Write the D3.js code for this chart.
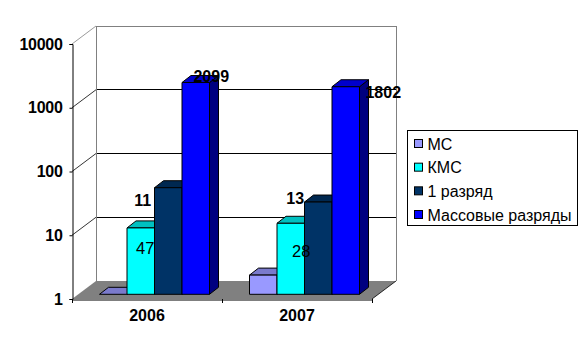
<html>
<head>
<meta charset="utf-8">
<title>Разряды</title>
<script type="text/javascript" src="https://d3js.org/d3.v7.min.js"></script>
<style>
  body { margin: 0; background: #fff; }
  text { font-family: "Liberation Sans", Arial, sans-serif; fill: #000; }
</style>
</head>
<body>
<script type="text/javascript">
  var years = ["2006", "2007"];
  var seriesNames = ["МС", "КМС", "1 разряд", "Массовые разряды"];
  var ms = [1, 2];
  var kms = [11, 13];
  var first = [47, 28];
  var mass = [2099, 1802];
  var yTicks = [1, 10, 100, 1000, 10000];

  var seriesValues = [ms, kms, first, mass];
  var front = ["#9999ff", "#00ffff", "#003366", "#0000ff"];
  var topFace = ["#7a7acc", "#00c0c0", "#002850", "#0000cc"];
  var sideFace = ["#4c4c80", "#008080", "#001a33", "#000080"];

  var width = 588, height = 356;
  var wallDx = 24, wallDy = -18;   // depth of the box
  var barDx = 9, barDy = -7;       // depth of one bar
  var planeDx = 7.5, planeDy = -4.7; // front of bars sits inside the floor

  var svg = d3.select("body").append("svg")
              .attr("width", width)
              .attr("height", height)
              .style("display", "block");

  var x = d3.scaleBand().domain(years).range([72, 372]);
  var inner = d3.scaleBand().domain(seriesNames).range([0, x.bandwidth()]).paddingOuter(20 / 27.5);
  var y = d3.scaleLog().domain([1, 10000]).range([299, 44]);

  var left = x.range()[0], right = x.range()[1], base = y(1), topY = y(10000);
  var line = d3.line();
  var box = svg.append("g").attr("shape-rendering", "crispEdges");

  // floor
  svg.insert("path", "g")
     .attr("d", line([[left, base], [left + wallDx, base + wallDy], [right + wallDx, base + wallDy], [right, base]]) + "Z")
     .attr("fill", "#808080");

  // grid on the back wall and the left side
  yTicks.slice(1).forEach(function(t) {
    var c = t == 10000 ? "#808080" : "#000";
    box.append("line")
       .attr("x1", left + wallDx).attr("x2", right + wallDx)
       .attr("y1", y(t) + wallDy).attr("y2", y(t) + wallDy)
       .attr("stroke", c);
    svg.append("line")
       .attr("x1", left).attr("x2", left + wallDx)
       .attr("y1", y(t)).attr("y2", y(t) + wallDy)
       .attr("stroke", c)
       .attr("stroke-width", 0.8);
  });
  box.append("line").attr("x1", left + wallDx).attr("x2", left + wallDx)
     .attr("y1", topY + wallDy).attr("y2", base + wallDy).attr("stroke", "#808080");
  box.append("line").attr("x1", right + wallDx).attr("x2", right + wallDx)
     .attr("y1", topY + wallDy).attr("y2", base + wallDy).attr("stroke", "#808080");
  svg.append("line").attr("x1", right).attr("x2", right + wallDx)
     .attr("y1", base).attr("y2", base + wallDy).attr("stroke", "#000").attr("stroke-width", 0.8);

  // bars
  var bars = [];
  years.forEach(function(year, i) {
    seriesNames.forEach(function(name, s) {
      bars.push({year: year, name: name, s: s, v: seriesValues[s][i]});
    });
  });
  var barBase = base + planeDy;
  var bw = inner.bandwidth();

  var groups = svg.append("g").selectAll("g").data(bars).enter().append("g")
     .attr("stroke", "#000")
     .attr("stroke-width", 1)
     .attr("stroke-linejoin", "round");

  function bx(d) { return x(d.year) + inner(d.name) + planeDx; }
  function by(d) { return y(d.v) + planeDy; }

  groups.append("path")
     .attr("fill", function(d) { return sideFace[d.s]; })
     .attr("d", function(d) {
       var r = bx(d) + bw;
       return line([[r, by(d)], [r + barDx, by(d) + barDy], [r + barDx, barBase + barDy], [r, barBase]]) + "Z";
     });
  groups.append("path")
     .attr("fill", function(d) { return topFace[d.s]; })
     .attr("d", function(d) {
       var l = bx(d), t = by(d);
       return line([[l, t], [l + barDx, t + barDy], [l + bw + barDx, t + barDy], [l + bw, t]]) + "Z";
     });
  groups.append("rect")
     .attr("fill", function(d) { return front[d.s]; })
     .attr("x", bx)
     .attr("y", by)
     .attr("width", bw)
     .attr("height", function(d) { return barBase - by(d); });

  // y axis
  var yAxis = svg.append("g")
     .attr("transform", "translate(" + (left + 0.5) + ",0)")
     .call(d3.axisLeft(y).tickValues(yTicks).tickFormat(d3.format("d")).tickSize(3).tickPadding(7));
  yAxis.selectAll("path,line").attr("stroke", "#000");
  yAxis.selectAll("text")
     .attr("font-size", 16).attr("font-weight", "bold")
     .attr("font-family", "Liberation Sans").attr("letter-spacing", -0.3);

  // x axis
  var xAxis = svg.append("g")
     .attr("transform", "translate(0," + (base + 0.5) + ")")
     .call(d3.axisBottom(x).tickSize(0).tickPadding(10));
  xAxis.select("path").attr("stroke", "#000");
  xAxis.selectAll("text")
     .attr("font-size", 16).attr("font-weight", "bold")
     .attr("font-family", "Liberation Sans");
  svg.append("g").selectAll("line").data([left, x("2007"), right]).enter().append("line")
     .attr("x1", function(d) { return d + 0.5; }).attr("x2", function(d) { return d + 0.5; })
     .attr("y1", base).attr("y2", base + 4)
     .attr("stroke", "#000");

  // data labels, moved by hand in the original so each has its own nudge
  var labelNudge = {"КМС2006": [2, -22], "КМС2007": [4.5, -19], "1 разряд2006": [-23, 66.5],
                    "1 разряд2007": [-17, 54.5], "Массовые разряды2006": [15.5, -1], "Массовые разряды2007": [37.5, 11]};
  svg.append("g").selectAll("text")
     .data(bars.filter(function(d) { return d.s > 0; })).enter().append("text")
     .attr("x", function(d) { return bx(d) + bw / 2 + labelNudge[d.name + d.year][0]; })
     .attr("y", function(d) { return by(d) + labelNudge[d.name + d.year][1]; })
     .attr("text-anchor", "middle")
     .attr("font-size", function(d) { return d.s == 2 ? 16.5 : 16; })
     .attr("font-weight", function(d) { return d.s == 2 ? "normal" : "bold"; })
     .text(function(d) { return d.v; });

  // legend
  var legendY = d3.scalePoint().domain(seriesNames).range([144, 215]);
  var legend = svg.append("g");
  legend.append("rect")
     .attr("x", 407.5).attr("y", 130.5).attr("width", 170).attr("height", 95)
     .attr("fill", "#fff").attr("stroke", "#000");
  var rows = legend.selectAll("g").data(seriesNames).enter().append("g")
     .attr("transform", function(d) { return "translate(0," + legendY(d) + ")"; });
  rows.append("rect")
     .attr("x", 414.5).attr("y", -4.5).attr("width", 8).attr("height", 8)
     .attr("fill", function(d, i) { return front[i]; })
     .attr("stroke", "#000");
  rows.append("text")
     .attr("x", 427.5).attr("y", 5.5)
     .attr("font-size", 16)
     .text(function(d) { return d; });
</script>
</body>
</html>
